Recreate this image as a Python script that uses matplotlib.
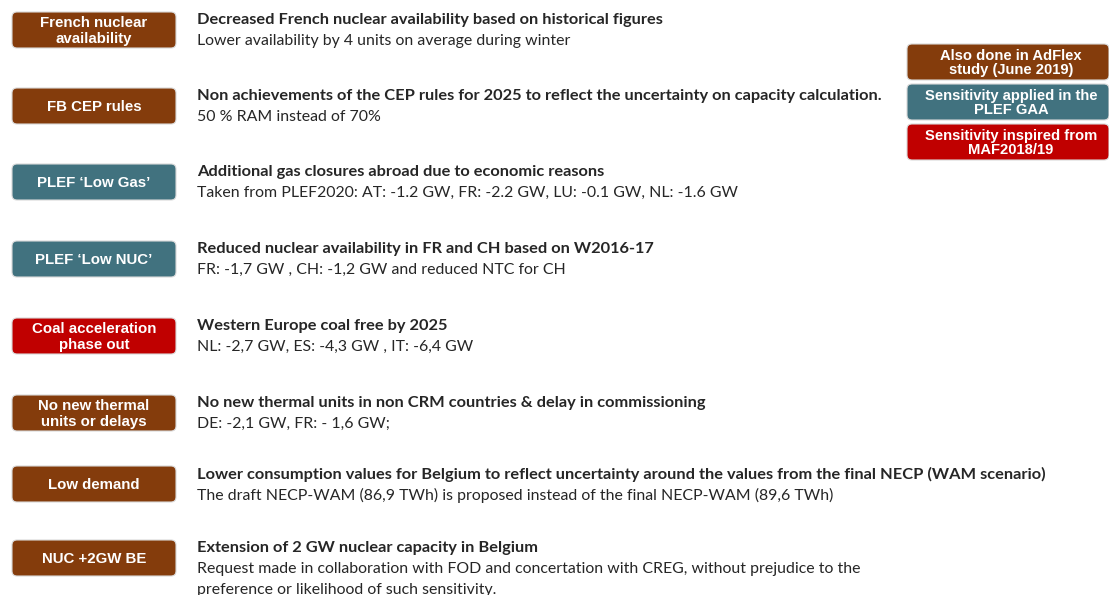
import matplotlib.pyplot as plt
from matplotlib.patches import FancyBboxPatch

BROWN = "#843C0C"
TEAL = "#41727F"
RED = "#C00000"

# sensitivities: box label, colour group, title, description
labels = [
    "French nuclear\navailability",
    "FB CEP rules",
    "PLEF \u2018Low Gas\u2019",
    "PLEF \u2018Low NUC\u2019",
    "Coal acceleration\nphase out",
    "No new thermal\nunits or delays",
    "Low demand",
    "NUC +2GW BE",
]
groups = ["adflex", "adflex", "plef", "plef", "maf", "adflex", "adflex", "adflex"]
titles = [
    "Decreased French nuclear availability based on historical figures",
    "Non achievements of the CEP rules for 2025 to reflect the uncertainty on capacity calculation.",
    "Additional gas closures abroad due to economic reasons",
    "Reduced nuclear availability in FR and CH based on W2016-17",
    "Western Europe coal free by 2025",
    "No new thermal units in non CRM countries & delay in commissioning",
    "Lower consumption values for Belgium to reflect uncertainty around the values from the final NECP (WAM scenario)",
    "Extension of 2 GW nuclear capacity in Belgium",
]
descriptions = [
    "Lower availability by 4 units on average during winter",
    "50 % RAM instead of 70%",
    "Taken from PLEF2020: AT: -1.2 GW, FR: -2.2 GW, LU: -0.1 GW, NL: -1.6 GW",
    "FR: -1,7 GW , CH: -1,2 GW and reduced NTC for CH",
    "NL: -2,7 GW, ES: -4,3 GW , IT: -6,4 GW",
    "DE: -2,1 GW, FR: - 1,6 GW;",
    "The draft NECP-WAM (86,9 TWh) is proposed instead of the final NECP-WAM (89,6 TWh)",
    "Request made in collaboration with FOD and concertation with CREG, without prejudice to the\npreference or likelihood of such sensitivity.",
]

legend_groups = ["adflex", "plef", "maf"]
legend_labels = [
    "Also done in AdFlex\nstudy (June 2019)",
    "Sensitivity applied in the\nPLEF GAA",
    "Sensitivity inspired from\nMAF2018/19",
]
group_colors = {"adflex": BROWN, "plef": TEAL, "maf": RED}

W, H = 1109, 595
fig = plt.figure(figsize=(W / 100, H / 100), dpi=100)
ax = fig.add_axes([0, 0, 1, 1])
ax.set_xlim(0, W)
ax.set_ylim(H, 0)
ax.axis("off")

box_font = "Liberation Sans"
text_font = "Lato"
text_color = "#262626"

row_y = [30, 106, 182, 259, 336, 413, 484, 558]


def rounded_box(x, y, w, h, color):
    box = FancyBboxPatch((x, y), w, h, boxstyle="round,pad=0,rounding_size=5",
                         facecolor=color, edgecolor="#d9d9d9", linewidth=0.8)
    ax.add_patch(box)


for yc, lab, grp, ttl, desc in zip(row_y, labels, groups, titles, descriptions):
    rounded_box(12, yc - 18, 164, 36, group_colors[grp])
    ax.text(94, yc + 1, lab, ha="center", va="center", color="white",
            fontsize=10.8, fontweight="bold", family=box_font, linespacing=1.15)
    ax.text(197, yc - 10, ttl, ha="left", va="center", color=text_color,
            fontsize=11.8, fontweight="bold", family=text_font)
    ax.text(197, yc + 4, desc, ha="left", va="top", color=text_color,
            fontsize=11.4, family=text_font, linespacing=1.65)

leg_y = [62, 102, 142]
for yc, grp, lab in zip(leg_y, legend_groups, legend_labels):
    rounded_box(907, yc - 18, 202, 36, group_colors[grp])
    ax.text(1011, yc + 1, lab, ha="center", va="center", color="white",
            fontsize=10.6, fontweight="bold", family=box_font, linespacing=1.08)

fig.savefig("out.png", dpi=100)
